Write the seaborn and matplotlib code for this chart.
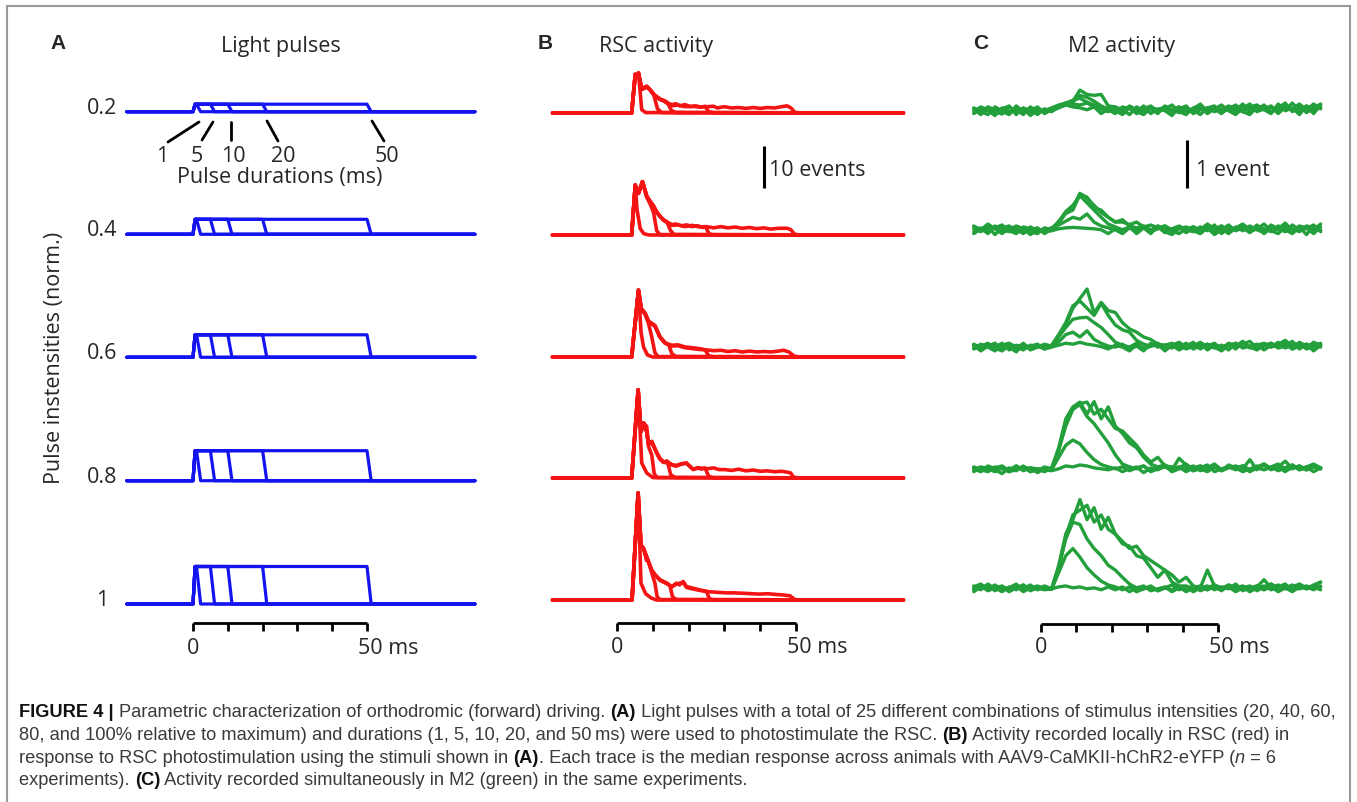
import numpy as np
import pandas as pd
import matplotlib
matplotlib.use("Agg")
import matplotlib.pyplot as plt
import seaborn as sns
from matplotlib import font_manager
from matplotlib.patches import Rectangle

# stimulus grid
intensities = [0.2, 0.4, 0.6, 0.8, 1.0]
intensity_labels = ["0.2", "0.4", "0.6", "0.8", "1"]
durations = [1, 5, 10, 20, 50]

# RSC activity (events) as (ms, events) points, one trace per duration 1/5/10/20/50 ms
rsc_02 = [
    [(-18, 0), (4.1, 0), (5.1, 9.2), (5.5, 8.5), (6.0, 9.5), (6.9, 0.8), (8.0, 0.1), (80, 0)],
    [(-18, 0), (4.1, 0), (5.1, 9.2), (5.5, 8.5), (6.0, 9.5), (6.9, 5.8), (8.3, 6.4), (9.2, 5.5), (10.2, 4.6),
     (11.3, 1.0), (12.5, 0.1), (80, 0)],
    [(-18, 0), (4.1, 0), (5.1, 9.2), (5.5, 8.5), (6.0, 9.5), (6.9, 5.6), (8.3, 6.2), (9.2, 5.6), (10.2, 4.4),
     (11.1, 3.9), (12.0, 3.3), (13.0, 3.0), (14.0, 2.6), (15.2, 0.6), (16.5, 0.1), (80, 0)],
    [(-18, 0), (4.1, 0), (5.1, 9.2), (5.5, 8.5), (6.0, 9.5), (6.9, 5.6), (8.3, 6.2), (9.2, 5.6), (10.2, 4.4),
     (11.1, 3.9), (12.0, 3.3), (13.0, 3.0), (14.0, 2.4), (15.3, 2.0), (16.5, 2.2), (17.5, 1.7), (19.0, 2.0),
     (20.5, 1.5), (22.0, 1.7), (23.5, 1.4), (24.6, 1.6), (25.6, 0.3), (27.0, 0.05), (80, 0)],
    [(-18, 0), (4.1, 0), (5.1, 9.2), (5.5, 8.5), (6.0, 9.5), (6.9, 5.7), (8.3, 6.3), (9.2, 5.5), (10.2, 4.5),
     (11.1, 3.8), (12.0, 3.2), (13.0, 2.9), (14.0, 2.3), (15.3, 1.7), (17.0, 1.9), (19.0, 1.5), (21.0, 1.6),
     (23.0, 1.4), (25.0, 1.5), (27.0, 1.6), (28.0, 1.2), (30.0, 1.5), (32.0, 1.2), (34.0, 1.3), (36.0, 1.1),
     (38.0, 1.3), (40.0, 1.1), (42.0, 1.3), (44.0, 1.2), (46.0, 1.5), (47.5, 1.7), (48.6, 1.2), (49.6, 0.2),
     (51.0, 0), (80, 0)],
]
rsc_04 = [
    [(-18, 0), (4.1, 0), (5.1, 11.9), (5.6, 6.0), (6.5, 1.5), (7.5, 0.3), (9.0, 0), (80, 0)],
    [(-18, 0), (4.1, 0), (5.1, 11.9), (6.0, 9.9), (7.1, 12.7), (8.3, 9.0), (9.2, 7.5), (10.2, 5.4), (11.1, 1.0),
     (12.0, 0.1), (80, 0)],
    [(-18, 0), (4.1, 0), (5.1, 11.9), (6.0, 9.9), (7.1, 12.7), (8.3, 9.3), (9.2, 8.0), (10.2, 6.9), (11.1, 5.4),
     (12.0, 4.5), (13.0, 3.6), (13.9, 3.2), (15.0, 1.0), (16.0, 0.1), (80, 0)],
    [(-18, 0), (4.1, 0), (5.1, 11.9), (6.0, 9.9), (7.1, 12.7), (8.3, 9.3), (9.2, 8.0), (10.2, 6.8), (11.1, 5.3),
     (12.0, 4.4), (13.0, 3.5), (13.9, 3.1), (15.3, 2.5), (16.5, 2.6), (18.0, 2.2), (19.5, 2.4), (21.0, 2.0),
     (22.5, 2.2), (24.0, 1.8), (24.8, 1.9), (25.7, 0.3), (27.0, 0), (80, 0)],
    [(-18, 0), (4.1, 0), (5.1, 11.9), (6.0, 9.9), (7.1, 12.7), (8.3, 9.2), (9.2, 8.1), (10.2, 6.9), (11.1, 5.5),
     (12.0, 4.5), (13.0, 3.6), (13.9, 3.0), (15.3, 2.3), (17.0, 2.4), (19.0, 2.0), (21.0, 2.3), (23.0, 1.9),
     (25.0, 2.0), (27.0, 1.7), (29.0, 2.0), (31.0, 1.7), (33.0, 1.9), (35.0, 1.6), (37.0, 1.8), (39.0, 1.5),
     (41.0, 1.7), (43.0, 1.4), (45.0, 1.6), (47.5, 1.6), (48.5, 1.3), (49.6, 0.2), (51.0, 0), (80, 0)],
]
rsc_06 = [
    [(-18, 0), (4.1, 0), (6.0, 15.9), (6.7, 6.0), (7.4, 2.4), (8.5, 0.5), (10.0, 0), (80, 0)],
    [(-18, 0), (4.1, 0), (6.0, 15.9), (6.8, 11.0), (7.8, 10.3), (8.8, 8.0), (9.7, 4.8), (10.6, 1.0), (11.5, 0.1),
     (80, 0)],
    [(-18, 0), (4.1, 0), (6.0, 15.9), (6.8, 11.5), (7.8, 10.5), (8.8, 8.5), (9.7, 8.0), (10.6, 7.5), (12.0, 4.8),
     (13.4, 3.4), (14.5, 2.8), (15.3, 0.8), (16.5, 0.1), (80, 0)],
    [(-18, 0), (4.1, 0), (6.0, 15.9), (6.8, 11.5), (7.8, 10.5), (8.8, 8.5), (9.7, 8.0), (10.6, 7.4), (12.0, 4.7),
     (13.4, 3.3), (15.3, 2.8), (17.0, 2.9), (19.0, 2.4), (21.0, 2.2), (23.0, 2.0), (24.6, 1.7), (25.6, 0.3),
     (27.0, 0), (80, 0)],
    [(-18, 0), (4.1, 0), (6.0, 15.9), (6.8, 11.4), (7.8, 10.4), (8.8, 8.4), (9.7, 7.9), (10.6, 7.3), (12.0, 4.8),
     (13.4, 3.4), (15.3, 2.6), (17.0, 2.7), (19.0, 2.2), (21.0, 2.0), (23.0, 1.8), (25.0, 1.7), (27.0, 1.5),
     (29.0, 1.6), (31.0, 1.3), (33.0, 1.5), (35.0, 1.2), (37.0, 1.4), (39.0, 1.2), (41.0, 1.3), (43.0, 1.2),
     (45.0, 1.4), (46.6, 1.6), (48.0, 1.2), (49.5, 0.2), (51.0, 0), (80, 0)],
]
rsc_08 = [
    [(-18, 0), (4.1, 0), (5.9, 21.0), (6.9, 3.6), (8.3, 1.2), (10.0, 0.1), (80, 0)],
    [(-18, 0), (4.1, 0), (5.9, 21.0), (6.7, 11.0), (7.4, 13.1), (8.3, 12.3), (8.8, 7.5), (9.7, 5.5), (10.4, 1.0),
     (11.2, 0.1), (80, 0)],
    [(-18, 0), (4.1, 0), (5.9, 21.0), (6.7, 11.0), (7.4, 13.1), (8.3, 11.0), (8.8, 8.0), (9.7, 8.7), (11.1, 6.0),
     (12.0, 4.6), (13.0, 3.8), (14.2, 3.5), (15.0, 0.8), (16.2, 0.1), (80, 0)],
    [(-18, 0), (4.1, 0), (5.9, 21.0), (6.7, 11.0), (7.4, 13.1), (8.3, 11.0), (8.8, 8.0), (9.7, 8.7), (11.1, 6.0),
     (12.0, 4.6), (13.0, 3.8), (13.9, 4.0), (15.3, 3.2), (16.5, 3.0), (18.0, 3.4), (19.4, 3.6), (20.5, 2.6),
     (21.3, 2.0), (22.5, 2.5), (23.5, 2.1), (24.6, 2.4), (25.6, 0.4), (27.0, 0), (80, 0)],
    [(-18, 0), (4.1, 0), (5.9, 21.0), (6.7, 11.0), (7.4, 13.1), (8.3, 11.1), (8.8, 8.1), (9.7, 8.6), (11.1, 5.9),
     (12.0, 4.5), (13.0, 3.7), (13.9, 4.0), (15.3, 3.1), (16.5, 2.8), (18.0, 3.3), (19.4, 3.5), (21.3, 2.1),
     (23.0, 2.4), (25.0, 2.2), (27.0, 2.4), (28.5, 2.0), (30.2, 2.0), (32.0, 1.8), (34.0, 2.1), (36.0, 1.7),
     (38.0, 1.9), (40.0, 1.6), (42.0, 1.7), (44.0, 1.5), (46.0, 1.6), (47.5, 1.4), (48.5, 1.2), (49.3, 0.2),
     (51.0, 0), (80, 0)],
]
rsc_10 = [
    [(-18, 0), (4.2, 0), (5.9, 25.5), (6.7, 4.0), (8.0, 1.5), (9.5, 0.5), (11.0, 0), (80, 0)],
    [(-18, 0), (4.2, 0), (5.9, 25.5), (6.7, 13.0), (7.4, 12.3), (8.2, 9.5), (8.8, 9.1), (9.7, 6.5), (10.6, 4.0),
     (11.2, 0.8), (12.0, 0.1), (80, 0)],
    [(-18, 0), (4.2, 0), (5.9, 25.5), (6.7, 13.0), (7.4, 12.3), (8.8, 9.1), (9.7, 7.1), (10.6, 6.0), (12.0, 4.8),
     (13.9, 4.0), (14.8, 3.4), (15.5, 0.8), (16.5, 0.1), (80, 0)],
    [(-18, 0), (4.2, 0), (5.9, 25.5), (6.7, 13.0), (7.4, 12.3), (8.8, 9.1), (9.7, 7.1), (10.6, 6.0), (12.0, 4.8),
     (13.9, 4.0), (15.3, 3.2), (16.6, 4.0), (17.5, 3.6), (18.5, 4.4), (19.4, 3.2), (21.3, 2.8), (23.1, 2.4),
     (24.2, 2.2), (25.0, 2.1), (25.8, 0.3), (27.0, 0), (80, 0)],
    [(-18, 0), (4.2, 0), (5.9, 25.5), (6.7, 13.0), (7.4, 12.3), (8.8, 9.0), (9.7, 7.0), (10.6, 6.0), (12.0, 4.7),
     (13.9, 3.9), (15.3, 3.1), (16.6, 3.8), (18.5, 4.2), (19.4, 3.0), (21.3, 2.6), (23.1, 2.3), (25.0, 2.0),
     (27.0, 1.9), (28.5, 1.8), (30.6, 1.7), (32.5, 1.7), (35.3, 1.6), (37.5, 1.5), (39.9, 1.4), (42.0, 1.5),
     (44.6, 1.3), (46.5, 1.2), (48.3, 1.0), (49.7, 0.1), (51.0, 0), (80, 0)],
]

# M2 activity (events), sampled every 2 ms from -19 to 79 ms
m2_time = np.arange(-19, 80, 2)
m2_02 = [
    [0.05, -0.06, 0.09, 0.00, -0.05, 0.10, -0.02, 0.07, -0.08, 0.04,
     0.00, 0.06, 0.09, 0.14, 0.10, 0.08, 0.04, 0.10, -0.04, 0.06,
     0.02, -0.06, 0.08, 0.00, 0.12, -0.04, 0.06, 0.02, -0.08, 0.10,
     0.00, 0.04, -0.06, 0.08, 0.12, -0.02, 0.06, 0.14, 0.00, -0.06,
     0.10, 0.04, -0.04, 0.16, 0.02, 0.08, -0.06, 0.12, 0.04, 0.10],
    [-0.04, 0.06, 0.02, -0.08, 0.08, 0.00, 0.04, -0.06, 0.10, 0.00,
     0.04, 0.02, 0.08, 0.14, 0.16, 0.14, 0.18, 0.10, 0.05, 0.00,
     0.08, 0.04, -0.06, 0.10, 0.02, 0.06, -0.04, 0.12, 0.04, -0.02,
     0.08, 0.00, 0.10, -0.04, 0.06, 0.14, 0.02, -0.06, 0.08, 0.16,
     0.00, 0.06, 0.12, -0.04, 0.10, 0.04, 0.14, -0.02, 0.08, 0.16],
    [0.08, 0.00, -0.06, 0.10, 0.02, -0.04, 0.12, 0.00, 0.04, -0.06,
     0.06, 0.00, 0.10, 0.18, 0.24, 0.28, 0.20, 0.14, 0.08, 0.04,
     -0.04, 0.10, 0.06, 0.00, -0.06, 0.08, 0.04, 0.10, -0.02, 0.06,
     0.12, -0.04, 0.04, 0.08, 0.00, 0.06, 0.10, -0.04, 0.12, 0.06,
     0.02, 0.14, -0.02, 0.08, 0.18, 0.00, 0.10, 0.04, 0.16, 0.06],
    [0.00, 0.10, 0.04, -0.04, 0.06, 0.12, -0.06, 0.08, 0.02, 0.10,
     -0.04, 0.04, 0.12, 0.18, 0.20, 0.34, 0.30, 0.22, 0.12, 0.06,
     0.06, 0.00, 0.12, 0.04, -0.04, 0.10, 0.02, 0.06, 0.14, 0.00,
     -0.06, 0.08, 0.12, 0.02, 0.06, -0.04, 0.10, 0.04, 0.16, -0.02,
     0.08, 0.12, 0.00, 0.10, 0.04, 0.18, 0.02, 0.12, -0.04, 0.14],
    [0.06, -0.02, 0.10, 0.04, 0.00, -0.06, 0.08, 0.04, 0.00, 0.06,
     0.02, 0.08, 0.14, 0.18, 0.22, 0.45, 0.36, 0.34, 0.36, 0.12,
     0.10, 0.04, 0.08, -0.04, 0.06, 0.12, 0.00, 0.08, 0.04, 0.10,
     0.02, 0.06, 0.16, 0.00, 0.08, 0.04, 0.12, 0.06, 0.00, 0.10,
     0.14, 0.04, 0.10, 0.00, 0.12, 0.06, 0.16, 0.04, 0.10, 0.08],
]
m2_04 = [
    [0.10, 0.04, 0.16, 0.06, -0.04, 0.08, 0.00, 0.06, -0.06, 0.04,
     0.00, 0.02, 0.06, 0.08, 0.09, 0.08, 0.07, 0.06, 0.04, -0.04,
     0.06, 0.00, 0.10, -0.04, 0.08, 0.02, 0.12, 0.00, -0.06, 0.06,
     0.10, 0.02, -0.04, 0.08, 0.00, 0.12, -0.02, 0.06, 0.10, 0.00,
     0.14, -0.04, 0.08, 0.04, 0.16, 0.00, 0.10, -0.06, 0.12, 0.04],
    [0.00, 0.08, -0.04, 0.12, 0.04, 0.00, 0.06, -0.04, 0.10, 0.02,
     0.06, 0.04, 0.14, 0.22, 0.30, 0.26, 0.37, 0.20, 0.12, 0.08,
     0.04, -0.04, 0.08, 0.02, 0.10, 0.00, 0.06, 0.12, 0.02, -0.04,
     0.06, 0.10, 0.00, 0.08, -0.06, 0.04, 0.14, 0.02, 0.08, -0.02,
     0.10, 0.06, 0.00, 0.12, 0.04, -0.04, 0.10, 0.06, 0.14, 0.00],
    [0.06, 0.00, 0.10, -0.06, 0.08, 0.12, 0.02, -0.02, 0.04, 0.08,
     -0.04, 0.06, 0.20, 0.42, 0.55, 0.75, 0.60, 0.45, 0.30, 0.16,
     0.10, 0.04, 0.10, 0.00, 0.08, -0.04, 0.12, 0.04, 0.00, 0.10,
     -0.02, 0.08, 0.04, 0.14, 0.00, 0.06, -0.04, 0.10, 0.02, 0.12,
     0.04, -0.02, 0.10, 0.06, 0.00, 0.14, 0.04, 0.08, -0.04, 0.10],
    [-0.04, 0.06, 0.02, 0.10, 0.00, 0.04, 0.12, 0.06, 0.00, -0.04,
     0.08, 0.04, 0.22, 0.40, 0.50, 0.80, 0.70, 0.55, 0.40, 0.30,
     0.20, 0.25, 0.12, 0.08, 0.12, 0.04, 0.10, -0.02, 0.06, 0.12,
     0.04, 0.00, 0.10, 0.02, 0.14, -0.04, 0.08, 0.04, 0.12, 0.00,
     0.06, 0.16, 0.02, -0.04, 0.10, 0.06, 0.00, 0.12, 0.08, 0.02],
    [0.12, 0.04, 0.00, 0.08, 0.14, 0.02, -0.04, 0.10, 0.06, 0.00,
     0.04, 0.08, 0.18, 0.38, 0.45, 0.78, 0.72, 0.50, 0.45, 0.30,
     0.20, 0.20, 0.15, 0.20, 0.10, 0.14, 0.08, 0.12, 0.04, 0.10,
     0.00, 0.10, 0.04, 0.16, 0.06, 0.12, 0.02, 0.08, 0.16, 0.04,
     0.10, 0.00, 0.14, 0.06, 0.18, 0.02, 0.12, 0.08, 0.04, 0.16],
]
m2_06 = [
    [0.08, -0.04, 0.06, 0.12, 0.00, 0.04, -0.06, 0.10, 0.02, 0.06,
     0.00, 0.04, 0.08, 0.12, 0.10, 0.14, 0.10, 0.08, 0.05, 0.00,
     0.08, 0.04, -0.04, 0.10, 0.02, 0.06, 0.12, 0.00, 0.08, -0.02,
     0.06, 0.14, 0.00, 0.10, 0.04, -0.04, 0.08, 0.12, 0.02, 0.06,
     0.10, -0.02, 0.08, 0.04, 0.14, 0.00, 0.06, 0.10, -0.04, 0.08],
    [0.02, 0.10, 0.04, -0.04, 0.08, 0.06, 0.00, 0.12, -0.02, 0.04,
     0.08, 0.05, 0.15, 0.30, 0.35, 0.25, 0.38, 0.20, 0.12, 0.06,
     0.04, 0.10, 0.00, 0.06, -0.04, 0.12, 0.04, 0.08, 0.02, 0.10,
     0.00, 0.06, 0.12, -0.02, 0.08, 0.04, 0.10, 0.00, 0.14, 0.04,
     -0.02, 0.08, 0.12, 0.02, 0.06, 0.16, 0.00, 0.10, 0.04, 0.12],
    [0.06, 0.00, 0.10, 0.04, 0.12, -0.02, 0.08, 0.02, 0.06, 0.10,
     0.00, 0.06, 0.25, 0.45, 0.62, 0.65, 0.66, 0.55, 0.45, 0.30,
     0.14, 0.08, 0.04, 0.12, 0.00, 0.06, 0.10, -0.04, 0.08, 0.04,
     0.12, 0.00, 0.06, 0.10, 0.02, 0.08, -0.02, 0.12, 0.04, 0.06,
     0.00, 0.10, 0.04, 0.14, 0.02, 0.08, 0.12, 0.00, 0.06, 0.10],
    [0.00, 0.06, 0.12, 0.02, -0.04, 0.08, 0.04, 0.10, 0.00, 0.06,
     0.04, 0.08, 0.30, 0.55, 0.90, 1.00, 0.85, 0.70, 0.95, 0.70,
     0.50, 0.40, 0.35, 0.18, 0.10, 0.06, 0.10, 0.00, 0.08, 0.14,
     0.04, 0.10, 0.02, 0.06, 0.12, 0.00, 0.08, 0.04, 0.10, 0.16,
     0.02, 0.06, 0.12, 0.04, 0.10, 0.00, 0.14, 0.06, 0.10, 0.04],
    [0.10, 0.02, 0.06, 0.00, 0.08, 0.12, 0.04, -0.02, 0.08, 0.04,
     0.10, 0.06, 0.28, 0.50, 0.85, 1.05, 1.25, 0.75, 0.97, 0.80,
     0.76, 0.55, 0.42, 0.35, 0.25, 0.20, 0.10, 0.08, 0.12, 0.02,
     0.10, 0.06, 0.14, 0.04, 0.08, 0.00, 0.12, 0.06, 0.16, 0.02,
     0.08, 0.12, 0.04, 0.10, 0.18, 0.06, 0.12, 0.02, 0.14, 0.08],
]
m2_08 = [
    [0.06, 0.00, 0.10, 0.04, -0.04, 0.08, 0.02, 0.12, 0.00, 0.06,
     0.04, 0.02, 0.06, 0.12, 0.10, 0.14, 0.12, 0.08, 0.06, 0.04,
     0.08, 0.00, 0.06, 0.10, -0.02, 0.08, 0.04, 0.12, 0.00, 0.06,
     0.10, 0.02, 0.08, 0.14, 0.00, 0.06, 0.10, 0.04, 0.12, 0.00,
     0.08, 0.04, 0.10, 0.16, 0.02, 0.08, 0.12, 0.04, 0.10, 0.06],
    [0.00, 0.08, 0.02, 0.10, 0.06, 0.00, 0.12, 0.04, 0.08, -0.02,
     0.06, 0.04, 0.30, 0.55, 0.66, 0.58, 0.40, 0.25, 0.15, 0.10,
     0.06, 0.10, 0.02, 0.08, 0.12, 0.00, 0.06, 0.10, 0.04, 0.28,
     0.14, 0.02, 0.06, 0.00, 0.10, 0.04, 0.12, 0.08, 0.00, 0.06,
     0.12, 0.04, 0.10, 0.02, 0.08, 0.14, 0.04, 0.10, 0.00, 0.08],
    [0.10, 0.04, 0.00, 0.08, 0.12, 0.02, 0.06, 0.10, 0.00, 0.04,
     0.08, 0.06, 0.45, 0.95, 1.30, 1.40, 1.15, 1.00, 0.80, 0.60,
     0.35, 0.16, 0.10, 0.06, 0.12, 0.02, 0.08, 0.14, 0.04, 0.10,
     0.00, 0.08, 0.12, 0.04, 0.10, 0.02, 0.08, 0.12, 0.06, 0.25,
     0.04, 0.16, 0.06, 0.10, 0.00, 0.12, 0.08, 0.04, 0.14, 0.06],
    [0.04, 0.10, 0.06, 0.00, 0.08, 0.04, 0.12, 0.02, 0.08, 0.06,
     0.00, 0.08, 0.50, 1.10, 1.35, 1.45, 1.20, 1.46, 1.10, 1.35,
     0.95, 0.80, 0.60, 0.50, 0.30, 0.16, 0.10, 0.14, 0.04, 0.10,
     0.06, 0.12, 0.02, 0.08, 0.16, 0.04, 0.10, 0.06, 0.12, 0.02,
     0.08, 0.14, 0.04, 0.10, 0.22, 0.06, 0.12, 0.04, 0.10, 0.08],
    [0.08, 0.02, 0.12, 0.06, 0.10, 0.00, 0.04, 0.10, 0.06, 0.02,
     0.10, 0.06, 0.45, 1.05, 1.30, 1.42, 1.45, 1.20, 1.30, 1.10,
     0.90, 0.85, 0.70, 0.55, 0.35, 0.20, 0.30, 0.12, 0.10, 0.08,
     0.16, 0.04, 0.12, 0.06, 0.10, 0.02, 0.14, 0.08, 0.12, 0.04,
     0.10, 0.16, 0.06, 0.12, 0.08, 0.14, 0.04, 0.10, 0.16, 0.08],
]
m2_10 = [
    [0.06, 0.12, 0.02, 0.08, 0.00, 0.10, 0.04, 0.14, 0.02, 0.08,
     0.04, 0.06, 0.10, 0.12, 0.08, 0.10, 0.06, 0.08, 0.04, 0.10,
     0.04, 0.10, 0.00, 0.08, 0.12, 0.02, 0.06, 0.10, 0.00, 0.08,
     0.04, 0.12, 0.02, 0.08, 0.14, 0.04, 0.10, 0.00, 0.08, 0.12,
     0.02, 0.10, 0.16, 0.04, 0.08, 0.00, 0.12, 0.06, 0.10, 0.04],
    [0.12, 0.04, 0.16, 0.06, 0.10, 0.00, 0.08, 0.14, 0.04, 0.10,
     0.06, 0.05, 0.40, 0.75, 0.90, 0.72, 0.50, 0.35, 0.22, 0.14,
     0.10, 0.04, 0.10, 0.00, 0.06, 0.12, 0.02, 0.08, 0.04, 0.10,
     0.00, 0.08, 0.12, 0.04, 0.10, 0.02, 0.14, 0.06, 0.10, 0.00,
     0.08, 0.12, 0.04, 0.10, 0.16, 0.02, 0.08, 0.12, 0.06, 0.10],
    [0.00, 0.10, 0.06, 0.14, 0.04, 0.08, 0.16, 0.02, 0.10, 0.06,
     0.12, 0.06, 0.50, 1.10, 1.45, 1.40, 1.10, 0.90, 0.75, 0.55,
     0.45, 0.30, 0.16, 0.08, 0.06, 0.10, 0.02, 0.08, 0.14, 0.04,
     0.10, 0.00, 0.08, 0.12, 0.04, 0.10, 0.06, 0.16, 0.02, 0.08,
     0.12, 0.04, 0.10, 0.00, 0.08, 0.14, 0.06, 0.10, 0.04, 0.12],
    [0.10, 0.16, 0.04, 0.08, 0.12, 0.02, 0.10, 0.06, 0.14, 0.04,
     0.08, 0.06, 0.55, 1.20, 1.50, 1.92, 1.50, 1.75, 1.30, 1.55,
     1.20, 1.00, 0.95, 0.75, 0.70, 0.50, 0.30, 0.45, 0.20, 0.12,
     0.12, 0.06, 0.10, 0.04, 0.14, 0.08, 0.12, 0.02, 0.10, 0.06,
     0.12, 0.04, 0.16, 0.08, 0.10, 0.02, 0.12, 0.06, 0.14, 0.20],
    [0.04, 0.08, 0.14, 0.02, 0.10, 0.06, 0.12, 0.00, 0.08, 0.12,
     0.06, 0.06, 0.50, 1.15, 1.60, 1.70, 1.80, 1.45, 1.60, 1.30,
     1.20, 1.05, 0.90, 0.95, 0.75, 0.65, 0.55, 0.45, 0.35, 0.20,
     0.30, 0.12, 0.08, 0.45, 0.12, 0.06, 0.14, 0.08, 0.12, 0.04,
     0.10, 0.25, 0.08, 0.14, 0.06, 0.10, 0.16, 0.08, 0.12, 0.20],
]

rsc_rows = [rsc_02, rsc_04, rsc_06, rsc_08, rsc_10]
m2_rows = [m2_02, m2_04, m2_06, m2_08, m2_10]

# ---- layout (pixels of the 1357x802 canvas) ----
W, H = 1357, 802
BLUE, RED, GREEN = "#1414f0", "#f51414", "#23a03c"
blue_base = [111.7, 234.3, 357.3, 480.7, 604]
red_base = [113, 235, 357, 478, 600]
green_base = [111.7, 231.7, 349, 471.7, 591.7]

sns.set_theme(style="white")
plt.rcParams["font.family"] = ["Open Sans", "DejaVu Sans"]

fig = plt.figure(figsize=(W / 100, H / 100), dpi=100)
renderer = fig.canvas.get_renderer()


def place(rect, x0, sx, yref, sy):
    left, top, right, bottom = rect
    ax = fig.add_axes([left / W, 1 - bottom / H, (right - left) / W, (bottom - top) / H])
    ax.set_facecolor("none")
    return ax, ((left - x0) / sx, (right - x0) / sx), ((yref - bottom) / sy, (yref - top) / sy)


def ftext(x, y, s, **kw):
    return fig.text(x / W, 1 - y / H, s, **kw)


def time_bar(ax, y, tick, x0_px, sx, lab_y):
    ax.plot([0, 50], [y, y], color="black", lw=2, solid_capstyle="butt", clip_on=False)
    for t in range(0, 51, 10):
        ax.plot([t, t], [y, y - tick], color="black", lw=2, solid_capstyle="butt", clip_on=False)
    ftext(x0_px, lab_y, "0", ha="center", va="baseline", fontsize=15.5)
    ftext(x0_px + 50 * sx - 9, lab_y, "50 ms", ha="left", va="baseline", fontsize=15.5)


# ---- A: light pulses ----
axA, xl, yl = place((10, 20, 500, 670), 193, 3.48, blue_base[0], 37.5)
rows = []
for k, inten in enumerate(intensities):
    off = (blue_base[0] - blue_base[k]) / 37.5
    for d in durations:
        tt = [-19, 0, 0.6, d, d + 1.2, 81]
        vv = [0, 0, inten, inten, 0, 0]
        for t, v in zip(tt, vv):
            rows.append({"t": t, "y": v + off, "trace": f"{k}-{d}"})
dfA = pd.DataFrame(rows)
sns.lineplot(data=dfA, x="t", y="y", units="trace", estimator=None, sort=False,
             color=BLUE, lw=2.3, ax=axA, legend=False)
axA.set_xlim(xl); axA.set_ylim(yl); axA.axis("off")
time_bar(axA, (blue_base[0] - 623) / 37.5, 8 / 37.5, 193, 3.48, 654)

for k, lab in enumerate(intensity_labels):
    ftext(102, blue_base[k] + 2, lab, ha="center", va="baseline", fontsize=15.5)

# duration call-outs
for (xa, ya, xb, yb) in [(168, 142, 199, 122), (202, 140, 213, 122), (231, 140, 231, 122),
                         (267, 121, 278, 141), (372, 121, 384, 141)]:
    axA.plot([(xa - 193) / 3.48, (xb - 193) / 3.48],
             [(blue_base[0] - ya) / 37.5, (blue_base[0] - yb) / 37.5],
             color="black", lw=2, clip_on=False)
for lab, xp in zip(durations, [162, 197, 233, 283, 387]):
    ftext(xp, 162, str(lab), ha="center", va="baseline", fontsize=15.5)
ftext(280, 183, "Pulse durations (ms)", ha="center", va="baseline", fontsize=15.5)
ftext(55, 358, "Pulse instensities (norm.)", ha="center", va="center", rotation=90, fontsize=15.5)

# ---- B: RSC activity ----
axB, xl, yl = place((520, 20, 930, 670), 617, 3.58, red_base[0], 4.2)
rows = []
for k, traces in enumerate(rsc_rows):
    off = (red_base[0] - red_base[k]) / 4.2
    for j, tr in enumerate(traces):
        for t, v in tr:
            rows.append({"t": t, "y": v + off, "trace": f"{k}-{j}"})
dfB = pd.DataFrame(rows)
sns.lineplot(data=dfB, x="t", y="y", units="trace", estimator=None, sort=False,
             color=RED, lw=2.6, ax=axB, legend=False)
axB.set_xlim(xl); axB.set_ylim(yl); axB.axis("off")
time_bar(axB, (red_base[0] - 623) / 4.2, 8 / 4.2, 617, 3.58, 653)
# 10 events scale bar
xb = (764 - 617) / 3.58
axB.plot([xb, xb], [(red_base[0] - 188) / 4.2, (red_base[0] - 188) / 4.2 + 10],
         color="black", lw=2.2, solid_capstyle="butt")
ftext(769, 176, "10 events", ha="left", va="baseline", fontsize=15.5)

# ---- C: M2 activity ----
axC, xl, yl = place((940, 20, 1345, 670), 1041, 3.54, green_base[0], 48)
rows = []
for k, traces in enumerate(m2_rows):
    off = (green_base[0] - green_base[k]) / 48
    for j, tr in enumerate(traces):
        for t, v in zip(m2_time, tr):
            rows.append({"t": t, "y": v + off, "trace": f"{k}-{j}"})
dfC = pd.DataFrame(rows)
sns.lineplot(data=dfC, x="t", y="y", units="trace", estimator=None, sort=False,
             color=GREEN, lw=2.4, ax=axC, legend=False)
axC.set_xlim(xl); axC.set_ylim(yl); axC.axis("off")
time_bar(axC, (green_base[0] - 624) / 48, 8 / 48, 1041, 3.54, 653)
xb = (1187 - 1041) / 3.54
axC.plot([xb, xb], [(green_base[0] - 188) / 48, (green_base[0] - 188) / 48 + 1],
         color="black", lw=2.2, solid_capstyle="butt")
ftext(1196, 176, "1 event", ha="left", va="baseline", fontsize=15.5)

# panel titles and letters
for letter, lx, title, tx in [("A", 58, "Light pulses", 281), ("B", 545, "RSC activity", 656),
                              ("C", 981, "M2 activity", 1121)]:
    ftext(lx, 49, letter, ha="center", va="baseline", fontsize=15, fontweight="bold",
          family=["Liberation Sans", "DejaVu Sans"])
    ftext(tx, 52, title, ha="center", va="baseline", fontsize=15.5)

# ---- caption ----
names = {f.name for f in font_manager.fontManager.ttflist}
cap_font = "Liberation Sans Narrow" if "Liberation Sans Narrow" in names else "Liberation Sans"
caption = [
    [("FIGURE 4 | ", "b"), ("Parametric characterization of orthodromic (forward) driving. ", "n"), ("(A)", "b"),
     (" Light pulses with a total of 25 different combinations of stimulus intensities (20, 40, 60,", "n")],
    [("80, and 100% relative to maximum) and durations (1, 5, 10, 20, and 50\u2009ms) were used to "
      "photostimulate the RSC. ", "n"), ("(B)", "b"), (" Activity recorded locally in RSC (red) in", "n")],
    [("response to RSC photostimulation using the stimuli shown in ", "n"), ("(A)", "b"),
     (". Each trace is the median response across animals with AAV9-CaMKII-hChR2-eYFP (", "n"),
     ("n", "i"), (" = 6", "n")],
    [("experiments). ", "n"), ("(C)", "b"),
     (" Activity recorded simultaneously in M2 (green) in the same experiments.", "n")],
]


def seg_kw(style, size):
    return dict(fontsize=size, family=[cap_font, "DejaVu Sans"],
                fontweight="bold" if style == "b" else "normal",
                fontstyle="italic" if style == "i" else "normal")


def seg_width(s, kw):
    a = fig.text(0, 0, "x" + s + "x", **kw)
    b = fig.text(0, 0, "xx", **kw)
    w = a.get_window_extent(renderer).width - b.get_window_extent(renderer).width
    a.remove(); b.remove()
    return w


w10 = sum(seg_width(s, seg_kw(st, 10)) for s, st in caption[0])
cap_size = 10 * (1340 - 19) / w10
for line, base in zip(caption, [717, 740, 763, 785]):
    x = 19
    for s, st in line:
        kw = seg_kw(st, cap_size)
        ftext(x, base, s, ha="left", va="baseline", color="#111111" if st == "b" else "#3a3a3a", **kw)
        x += seg_width(s, kw)

fig.patches.append(Rectangle((7 / W, -0.05), (1350 - 7) / W, 1 - 6 / H + 0.05, transform=fig.transFigure,
                             fill=False, ec="#9a9a9a", lw=1.5))

fig.savefig("out.png", dpi=100)
